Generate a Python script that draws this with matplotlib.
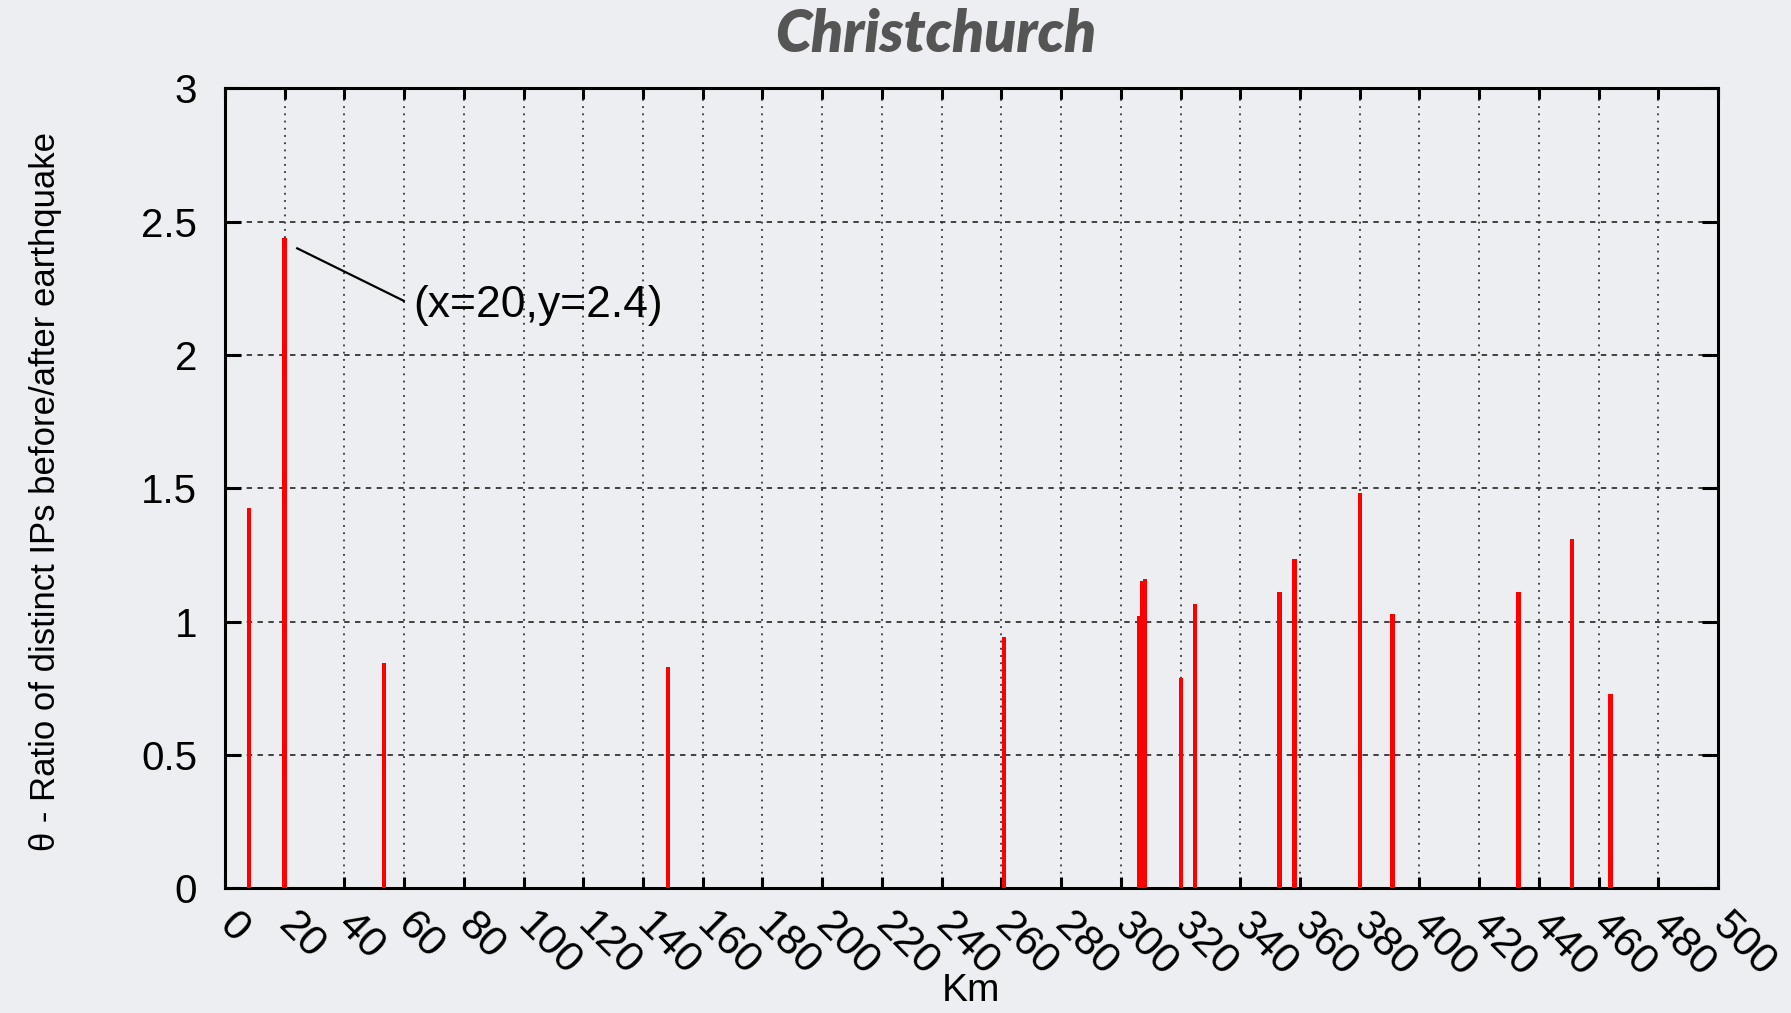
import matplotlib
matplotlib.use("Agg")
import matplotlib.pyplot as plt

# distance from epicentre (km) and ratio of distinct IPs before/after
km = [8.1, 20.0, 53.2, 148.3, 260.8, 306.1, 307.1, 308.1, 320.2, 324.9,
      353.1, 358.1, 380.1, 391.0, 433.1, 451.1, 464.0]
ratio = [1.425, 2.44, 0.844, 0.829, 0.941, 1.021, 1.152, 1.159, 0.789, 1.067,
         1.111, 1.234, 1.481, 1.027, 1.111, 1.309, 0.727]

x_ticks = list(range(0, 501, 20))
y_ticks = [0, 0.5, 1, 1.5, 2, 2.5, 3]
y_tick_labels = ["0", "0.5", "1", "1.5", "2", "2.5", "3"]

# point called out on the plot
peak = 1

bg = "#EDEEF1"
plt.rcParams["font.family"] = ["Liberation Sans", "DejaVu Sans"]

fig = plt.figure(figsize=(17.91, 10.13), dpi=100, facecolor=bg)
ax = fig.add_axes([0.1256, 0.1231, 0.8337, 0.7897])
ax.set_facecolor(bg)

ax.bar(km, ratio, width=1.5, color="#FF0000", zorder=3)

ax.set_xlim(0, 500)
ax.set_ylim(0, 3)
ax.set_xticks(x_ticks)
ax.set_xticklabels([])
ax.set_yticks(y_ticks)
ax.set_yticklabels(y_tick_labels, fontsize=29)

# slanted x labels, set a bit right of and below each tick
for t in x_ticks:
    ax.annotate(str(t), xy=(t, 0), xycoords=("data", "axes fraction"),
                xytext=(10, -12), textcoords="offset points",
                rotation=-45, rotation_mode="anchor", ha="left", va="top",
                fontsize=31, annotation_clip=False)

ax.tick_params(axis="both", direction="in", top=True, right=True,
               width=2.2, color="black")
ax.tick_params(axis="x", length=8)
ax.tick_params(axis="y", length=11.5, pad=20)
for s in ax.spines.values():
    s.set_linewidth(2.2)

ax.set_axisbelow(True)
ax.xaxis.grid(True, linestyle=(0, (1, 3)), color="#333333", linewidth=1.3)
ax.yaxis.grid(True, linestyle=(0, (3, 3)), color="#333333", linewidth=1.3)

# callout for the tallest bar
px, py = km[peak], ratio[peak]
ax.plot([px + 4.2, 59.9], [2.40, 2.203], color="black", linewidth=1.6, zorder=4)
ax.text(63, 2.187, "(x=%g,y=%.1f)" % (px, py), fontsize=32, va="center",
        ha="left", zorder=5)

fig.text(0.5226, 0.9664, "Christchurch", fontsize=42, family="Lato",
         weight="heavy", style="italic", color="#555555",
         ha="center", va="center")
fig.text(0.5422, 0.012, "Km", fontsize=28, ha="center", va="baseline")
fig.text(0.0255, 0.515, "\u03b8 - Ratio of distinct IPs before/after earthquake",
         fontsize=25, rotation=90, ha="center", va="center")

fig.savefig("out.png", dpi=100, facecolor=bg)
